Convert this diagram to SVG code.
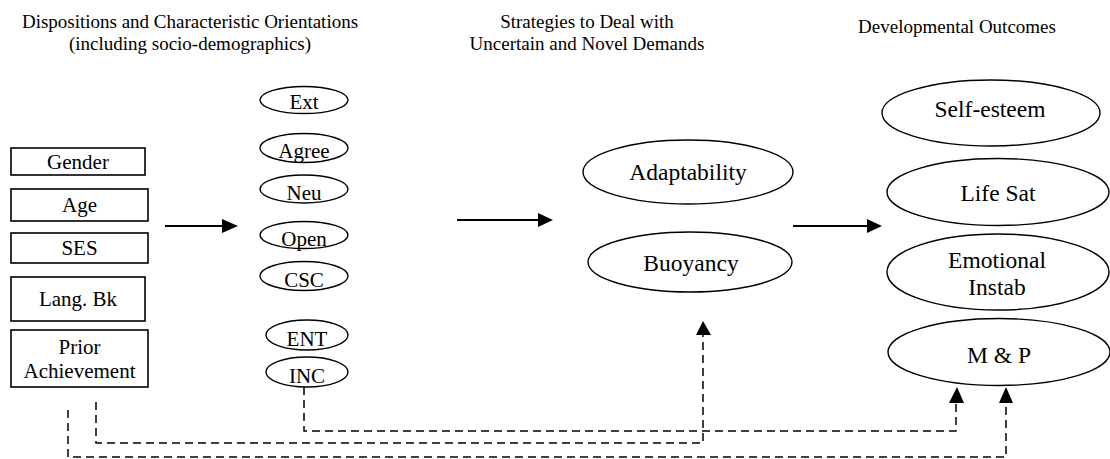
<svg xmlns="http://www.w3.org/2000/svg" width="1110" height="459" viewBox="0 0 1110 459" font-family="'Liberation Serif', 'DejaVu Serif', serif">
<defs>
<style>
text{font-family:'Liberation Serif','DejaVu Serif',serif;fill:#000;text-anchor:middle}
.title{font-size:19px}
.t1{font-size:21px}
.t2{font-size:23.5px}
.box{fill:#fff;stroke:#000;stroke-width:1.6}
.ell{fill:#fff;stroke:#000;stroke-width:1.4}
.arrow{stroke:#000;stroke-width:2;fill:none}
.dash{stroke:#000;stroke-width:1.5;fill:none;stroke-dasharray:8,5}
.head{fill:#000}
</style>
</defs>
<rect width="1110" height="459" fill="#fff"/>
<g id="titles">
<text class="title" x="190" y="28">Dispositions and Characteristic Orientations</text>
<text class="title" x="190" y="50">(including socio-demographics)</text>
<text class="title" x="587" y="28">Strategies to Deal with</text>
<text class="title" x="587" y="50">Uncertain and Novel Demands</text>
<text class="title" x="957" y="33">Developmental Outcomes</text>
</g>
<g id="gender"><rect class="box" x="11" y="148" width="134" height="27"/><text class="t1" x="78" y="169">Gender</text></g>
<g id="age"><rect class="box" x="11" y="189" width="137" height="32"/><text class="t1" x="79.5" y="212">Age</text></g>
<g id="ses"><rect class="box" x="11" y="233" width="137" height="30"/><text class="t1" x="79.5" y="255">SES</text></g>
<g id="langbk"><rect class="box" x="11" y="277" width="134" height="44"/><text class="t1" x="78" y="306">Lang. Bk</text></g>
<g id="prior"><rect class="box" x="11" y="330" width="137" height="57"/><text class="t1" x="79.5" y="354">Prior</text><text class="t1" x="79.5" y="378">Achievement</text></g>
<g id="ext"><ellipse class="ell" cx="304" cy="100" rx="44" ry="13.5"/><text class="t1" x="304" y="109">Ext</text></g>
<g id="agree"><ellipse class="ell" cx="304" cy="148" rx="44" ry="14.5"/><text class="t1" x="304" y="158">Agree</text></g>
<g id="neu"><ellipse class="ell" cx="304" cy="189" rx="44" ry="14"/><text class="t1" x="304" y="200">Neu</text></g>
<g id="open"><ellipse class="ell" cx="304" cy="235" rx="44" ry="13.5"/><text class="t1" x="304" y="246">Open</text></g>
<g id="csc"><ellipse class="ell" cx="304" cy="276" rx="44" ry="14.5"/><text class="t1" x="304" y="287">CSC</text></g>
<g id="ent"><ellipse class="ell" cx="307" cy="335" rx="41" ry="15"/><text class="t1" x="307" y="346">ENT</text></g>
<g id="inc"><ellipse class="ell" cx="307" cy="372" rx="41" ry="15"/><text class="t1" x="307" y="383">INC</text></g>
<g id="adaptability"><ellipse class="ell" cx="688" cy="172" rx="105" ry="32"/><text class="t2" x="688" y="180">Adaptability</text></g>
<g id="buoyancy"><ellipse class="ell" cx="690" cy="262" rx="102" ry="30"/><text class="t2" x="691" y="271">Buoyancy</text></g>
<g id="selfesteem"><ellipse class="ell" cx="991" cy="113" rx="109" ry="33"/><text class="t2" x="990" y="117">Self-esteem</text></g>
<g id="lifesat"><ellipse class="ell" cx="998" cy="192" rx="111" ry="33.5"/><text class="t2" x="998" y="201">Life Sat</text></g>
<g id="emotional"><ellipse class="ell" cx="998" cy="272" rx="111" ry="38"/><text class="t2" x="997" y="268">Emotional</text><text class="t2" x="997" y="295">Instab</text></g>
<g id="mp"><ellipse class="ell" cx="999" cy="352" rx="111" ry="33.5"/><text class="t2" x="999" y="363">M &amp; P</text></g>
<g id="connectors">
<line class="arrow" x1="165" y1="226" x2="224" y2="226"/>
<polygon class="head" points="222,219 238,226 222,233"/>
<line class="arrow" x1="457" y1="220" x2="540" y2="220"/>
<polygon class="head" points="538,213 553,220 538,227"/>
<line class="arrow" x1="793" y1="226" x2="869" y2="226"/>
<polygon class="head" points="867,219 882,226 867,233"/>
<polyline class="dash" points="304,387 304,431 956,431 956,403"/>
<polygon class="head" points="949,403 957,387 964,403"/>
<polyline class="dash" points="96,402 96,443 703,443 703,335"/>
<polygon class="head" points="696,335 703,321 711,335"/>
<polyline class="dash" points="68,410 68,457 1006,457 1006,403"/>
<polygon class="head" points="999,403 1006,387 1013,403"/>
</g>
</svg>
